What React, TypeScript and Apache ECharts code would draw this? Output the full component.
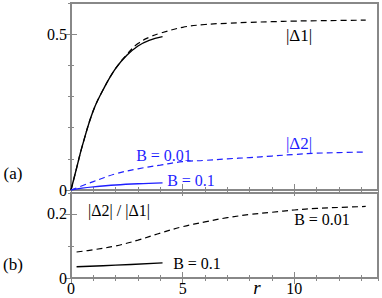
import React, { useEffect, useRef } from "react";
import * as echarts from "echarts";

// ---- data ----
const R_MAX = 13.75;
const TOP_Y_MAX = 0.6;
const BOT_Y_MAX = 0.265;

const xTickLabels = [0, 5, 10];
const topYTickLabels = [0, 0.5];
const botYTickLabels = [0, 0.2];

const delta1B001: [number, number][] = [
  [0, 0], [0.25, 0.07], [0.5, 0.14], [1, 0.255], [1.5, 0.33], [2, 0.39], [2.5, 0.435],
  [3, 0.47], [3.5, 0.49], [4, 0.503], [5, 0.522], [6, 0.531], [7, 0.535], [8, 0.538],
  [9, 0.54], [10, 0.542], [11, 0.543], [12, 0.544], [13.2, 0.545],
];
const delta1B01: [number, number][] = [
  [0, 0], [0.25, 0.07], [0.5, 0.14], [1, 0.255], [1.5, 0.33], [2, 0.39], [2.5, 0.432],
  [3, 0.462], [3.5, 0.48], [4.1, 0.492],
];
const delta2B001: [number, number][] = [
  [0, 0], [1, 0.027], [2, 0.052], [3, 0.068], [4, 0.08], [5, 0.091], [6, 0.095],
  [7, 0.1], [8, 0.104], [9, 0.109], [10, 0.114], [11, 0.118], [12, 0.12], [13.2, 0.122],
];
const delta2B01: [number, number][] = [
  [0, 0], [0.5, 0.006], [1, 0.01], [2, 0.016], [3, 0.02], [4.1, 0.023],
];
const ratioB001: [number, number][] = [
  [0.25, 0.081], [1, 0.088], [2, 0.1], [3, 0.118], [4, 0.14], [5, 0.16], [6, 0.175],
  [7, 0.188], [8, 0.198], [9, 0.205], [10, 0.212], [11, 0.217], [12, 0.22], [13.2, 0.223],
];
const ratioB01: [number, number][] = [
  [0.25, 0.035], [2, 0.04], [4.1, 0.047],
];

const FONT = "Liberation Serif";
const FRAME = "#888";
const BLUE = "#1f1fff";

function axisSet(
  kind: "x" | "y",
  gridIndex: number,
  max: number,
  minorInterval: number,
  majors: number[],
  labels: boolean
) {
  const common = { type: "value", gridIndex, min: 0, max, interval: minorInterval };
  const posA = kind === "x" ? "bottom" : "left";
  const posB = kind === "x" ? "top" : "right";
  const make = (position: string, major: boolean, withLabels: boolean) => ({
    ...common,
    position,
    splitLine: { show: false },
    axisLine: { show: false },
    axisTick: major
      ? { show: true, inside: true, length: 6, customValues: majors, lineStyle: { color: FRAME, width: 1 } }
      : { show: true, inside: true, length: 3, lineStyle: { color: FRAME, width: 1 } },
    axisLabel: withLabels
      ? {
          show: true,
          customValues: majors,
          fontFamily: FONT,
          fontSize: 16,
          color: "#000",
          margin: kind === "x" ? 2 : 4,
          formatter: (v: number) => String(v),
        }
      : { show: false },
  });
  return [
    make(posA, false, labels),
    make(posA, true, false),
    make(posB, false, false),
    make(posB, true, false),
  ];
}

export default function App() {
  const ref = useRef<HTMLDivElement>(null);
  useEffect(() => {
    document.body.style.margin = "0";
    const chart = echarts.init(ref.current!, undefined, { renderer: "svg" });
    const xAxis = [
      ...axisSet("x", 0, R_MAX, 1, xTickLabels, false),
      ...axisSet("x", 1, R_MAX, 1, xTickLabels, true),
    ];
    const yAxis = [
      ...axisSet("y", 0, TOP_Y_MAX, 0.1, topYTickLabels, true),
      ...axisSet("y", 1, BOT_Y_MAX, 0.1, botYTickLabels, true),
    ];
    const line = (
      data: [number, number][],
      panel: number,
      color: string,
      dashed: boolean
    ) => ({
      type: "line",
      xAxisIndex: panel * 4,
      yAxisIndex: panel * 4,
      data,
      smooth: 0.4,
      showSymbol: false,
      symbol: "none",
      lineStyle: { color, width: dashed ? 1.2 : 1.4, type: dashed ? [6, 4] : "solid" },
    });
    const txt = (
      text: string,
      x: number,
      y: number,
      color = "#000",
      size = 16,
      italic = false
    ) => {
      const s: any = {
        text,
        fill: color,
        fontFamily: FONT,
        fontSize: size,
        align: "center",
        verticalAlign: "middle",
      };
      if (italic) s.fontStyle = "italic";
      return { type: "text", x, y, style: s };
    };
    chart.setOption({
      animation: false,
      grid: [
        { left: 71, top: 3, width: 307, height: 187, show: true, borderColor: FRAME, borderWidth: 2 },
        { left: 71, top: 193, width: 307, height: 85, show: true, borderColor: FRAME, borderWidth: 2 },
      ],
      xAxis,
      yAxis,
      series: [
        line(delta1B001, 0, "#000", true),
        line(delta1B01, 0, "#000", false),
        line(delta2B001, 0, BLUE, true),
        line(delta2B01, 0, BLUE, false),
        line(ratioB001, 1, "#000", true),
        line(ratioB01, 1, "#000", false),
      ],
      graphic: [
        txt("(a)", 13, 173, "#000", 17),
        txt("(b)", 13, 264, "#000", 17),
        txt("|Δ1|", 299, 35, "#000", 17),
        txt("|Δ2|", 299, 143, BLUE, 17),
        txt("B = 0.01", 164, 155, BLUE),
        txt("B = 0.1", 191, 180, BLUE),
        txt("|Δ2| / |Δ1|", 119, 210),
        txt("B = 0.01", 322, 219),
        txt("B = 0.1", 197, 263),
        txt("r", 257, 287, "#000", 19, true),
      ],
    });
    return () => chart.dispose();
  }, []);
  return <div ref={ref} style={{ width: 382, height: 298 }} />;
}
